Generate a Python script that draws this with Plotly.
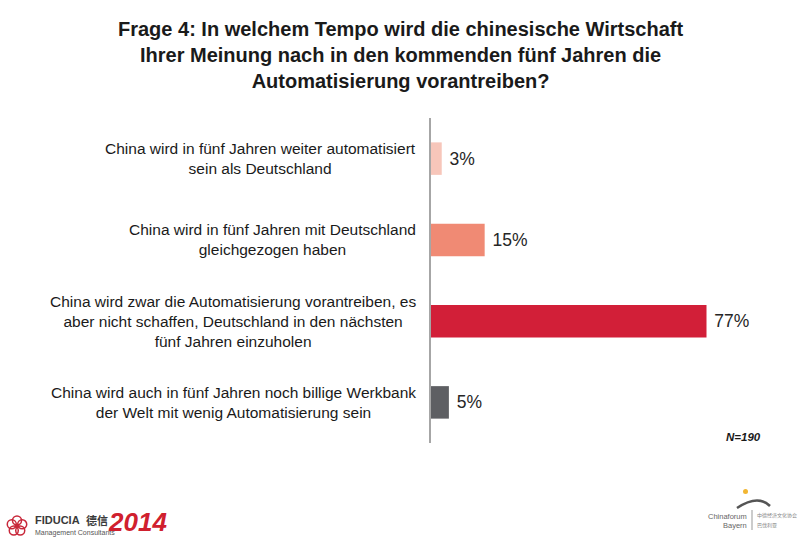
import math
import plotly.graph_objects as go

categories = [
    "China wird in fünf Jahren weiter automatisiert<br>sein als Deutschland",
    "China wird in fünf Jahren mit Deutschland<br>gleichgezogen haben",
    "China wird zwar die Automatisierung vorantreiben, es<br>aber nicht schaffen, Deutschland in den nächsten<br>fünf Jahren einzuholen",
    "China wird auch in fünf Jahren noch billige Werkbank<br>der Welt mit wenig Automatisierung sein",
]
values = [3, 15, 77, 5]
labels = ["3%", "15%", "77%", "5%"]
colors = ["#F7C6BA", "#F08A74", "#D21F38", "#5E5F63"]
ids = ["c1", "c2", "c3", "c4"]

FONT = "Liberation Sans, Arial, sans-serif"
CJK = "Noto Sans CJK SC"

W, H = 800, 540
L, R, T, B = 431, 13, 118, 97

def px_x(px):
    return (px - L) / (W - L - R)

def px_y(py):
    return (H - B - py) / (H - B - T)

fig = go.Figure()
fig.add_trace(go.Bar(
    y=ids, x=values, orientation="h",
    marker=dict(color=colors, line=dict(width=0)),
    text=[" " + t for t in labels], textposition="outside",
    textfont=dict(family=FONT, size=17.5, color="#262626"),
    cliponaxis=False, hoverinfo="skip", width=0.4,
))

for cid, cat in zip(ids, categories):
    fig.add_annotation(
        x=0, y=cid, xref="x", yref="y", text=cat, showarrow=False,
        xanchor="right", align="center", xshift=-13,
        font=dict(family=FONT, size=15.5, color="#1a1a1a"),
    )

fig.add_annotation(
    x=px_x(763), y=px_y(437), xref="paper", yref="paper", xanchor="right", yanchor="middle",
    text="<b><i>N=190</i></b>", showarrow=False,
    font=dict(family=FONT, size=11.5, color="#1a1a1a"),
)

# Title
fig.add_annotation(
    x=px_x(400), y=px_y(55), xref="paper", yref="paper", showarrow=False,
    xanchor="center", yanchor="middle",
    text="<b>Frage 4: In welchem Tempo wird die chinesische Wirtschaft<br>Ihrer Meinung nach in den kommenden fünf Jahren die<br>Automatisierung vorantreiben?</b>",
    font=dict(family=FONT, size=20, color="#1a1a1a"), align="center",
)

logo_texts = [
    dict(x=33, y=520, text="<b>FIDUCIA</b>", size=11, color="#3a3a3a", anchor="left", fam=FONT),
    dict(x=84, y=520, text="<b>德信</b>", size=11, color="#3a3a3a", anchor="left", fam=CJK),
    dict(x=33, y=533, text="Management Consultants", size=7, color="#555555", anchor="left", fam=FONT),
    dict(x=106, y=522, text="<b><i>2014</i></b>", size=26, color="#D0202E", anchor="left", fam=FONT),
    dict(x=749, y=516, text="Chinaforum", size=7.5, color="#666666", anchor="right", fam=FONT),
    dict(x=749, y=525, text="Bayern", size=7.5, color="#666666", anchor="right", fam=FONT),
    dict(x=755, y=515, text="中德经济文化协会", size=5, color="#888888", anchor="left", fam=CJK),
    dict(x=755, y=524, text="巴伐利亚", size=5, color="#888888", anchor="left", fam=CJK),
]

for t in logo_texts:
    fig.add_annotation(
        x=px_x(t["x"]), y=px_y(t["y"]), xref="paper", yref="paper",
        xanchor=t["anchor"], yanchor="middle", showarrow=False, text=t["text"],
        font=dict(family=t["fam"], size=t["size"], color=t["color"]),
    )

# flower logo
cx, cy = 17, 526
for k in range(5):
    a = math.radians(90 + 72 * k)
    x0 = cx + 5.5 * math.cos(a)
    y0 = cy - 5.5 * math.sin(a)
    fig.add_shape(type="circle", xref="paper", yref="paper",
                  x0=px_x(x0 - 4.5), x1=px_x(x0 + 4.5), y0=px_y(y0 + 4.5), y1=px_y(y0 - 4.5),
                  line=dict(color="#C8283A", width=1.5), fillcolor="rgba(0,0,0,0)")
fig.add_shape(type="circle", xref="paper", yref="paper",
              x0=px_x(cx - 2), x1=px_x(cx + 2), y0=px_y(cy + 2), y1=px_y(cy - 2),
              line=dict(color="#C8283A", width=1), fillcolor="#C8283A")
# vertical separator chinaforum
fig.add_shape(type="line", xref="paper", yref="paper",
              x0=px_x(752), x1=px_x(752), y0=px_y(510), y1=px_y(530),
              line=dict(color="#999999", width=1))
# swoosh
fig.add_shape(type="path", xref="paper", yref="paper",
              path="M {},{} Q {},{} {},{}".format(px_x(737), px_y(508), px_x(758), px_y(494), px_x(770), px_y(506)),
              line=dict(color="#555555", width=2.5))
fig.add_shape(type="circle", xref="paper", yref="paper",
              x0=px_x(743), x1=px_x(748), y0=px_y(494), y1=px_y(489),
              line=dict(width=0), fillcolor="#F2B632")

fig.update_layout(
    width=W, height=H,
    margin=dict(l=L, r=R, t=T, b=B),
    paper_bgcolor="white", plot_bgcolor="white",
    showlegend=False, bargap=0.6,
    xaxis=dict(range=[0, 99.5], visible=False, fixedrange=True),
    yaxis=dict(autorange="reversed", showticklabels=False, ticks="",
               showline=True, linecolor="#A6A6A6", linewidth=1.5,
               showgrid=False, zeroline=False),
)

fig.write_html("out.html")
